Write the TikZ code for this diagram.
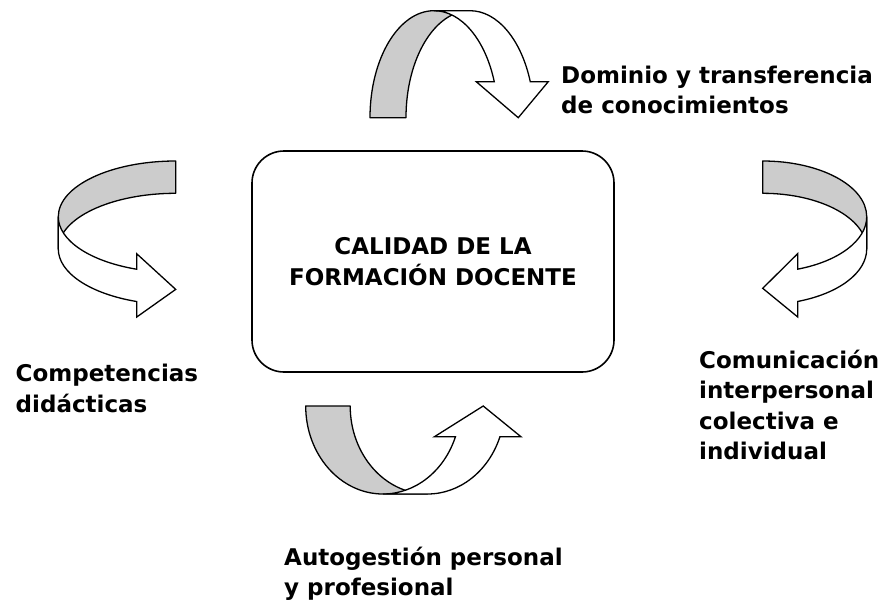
\documentclass[tikz,border=0pt]{standalone}
\usepackage{fontspec}
\setmainfont{DejaVu Sans}
\usepackage{tikz}

\newcommand{\rotulo}{\fontsize{23}{30.5}\selectfont\bfseries}

\tikzset{
  reverso/.style={draw=black, fill=gray!40, line width=1.3pt, line join=round},
  cara/.style={draw=black, fill=white, line width=1.3pt},
  etiqueta/.style={font=\rotulo, align=left, anchor=base west, inner sep=0pt},
}

% flecha curva: radio, alto, grosor, altura de la punta, ala, desvio
\newcommand{\flechacurva}[6]{%
  \pgfmathsetmacro{\fang}{asin(#4/#2)}
  \pgfmathsetmacro{\fc}{#1*cos(\fang)}
  \filldraw[reverso] (-#1,0) arc[start angle=180, end angle=90, x radius=#1, y radius=#2]
    -- (#3,#2) arc[start angle=90, end angle=180, x radius=#1, y radius=#2] -- cycle;
  \filldraw[cara] (0,#2) arc[start angle=90, end angle=\fang, x radius=#1, y radius=#2]
    -- (\fc-#5,#4) -- (\fc+#3/2+#6,0) -- (\fc+#3+#5,#4) -- (\fc+#3,#4)
    arc[start angle=\fang, end angle=90, x radius=#1, y radius=#2] -- cycle;
}

\begin{document}
\begin{tikzpicture}[x=1pt, y=-1pt]
  \useasboundingbox (0,0) rectangle (891,603);

  % caja central
  \node[draw, line width=1.6pt, rounded corners=32pt, minimum width=362pt,
    minimum height=221pt, align=center, font=\rotulo] (calidad) at (433,261.5)
    {CALIDAD DE LA\\FORMACIÓN DOCENTE};

  % flecha de arriba
  \begin{scope}[shift={(434,117.7)}, x={(1pt,0pt)}, y={(0pt,1pt)}]
    \flechacurva{64}{107}{36}{36}{18}{6}
  \end{scope}
  % flecha de la izquierda
  \begin{scope}[shift={(175.7,216.7)}, x={(0pt,-1pt)}, y={(-1pt,0pt)}]
    \flechacurva{55.7}{117.4}{32.3}{39}{15.5}{4}
  \end{scope}
  % flecha de la derecha
  \begin{scope}[shift={(762.7,216.7)}, x={(0pt,-1pt)}, y={(1pt,0pt)}]
    \flechacurva{55.7}{104}{32.3}{35}{15.5}{3}
  \end{scope}
  % flecha de abajo
  \begin{scope}[shift={(383,406)}, x={(1pt,0pt)}, y={(0pt,-1pt)}]
    \flechacurva{77.3}{88}{44.5}{30.7}{21}{5.5}
  \end{scope}

  % rotulos (anclados en la ultima linea)
  \node[etiqueta] (dominio) at (561,113.8) {Dominio y transferencia\\de conocimientos};
  \node[etiqueta] (competencias) at (15.5,412.2) {Competencias\\didácticas};
  \node[etiqueta] (comunicacion) at (699,459.8) {Comunicación\\interpersonal\\colectiva e\\individual};
  \node[etiqueta] (autogestion) at (284,595.5) {Autogestión personal\\y profesional};
\end{tikzpicture}
\end{document}
